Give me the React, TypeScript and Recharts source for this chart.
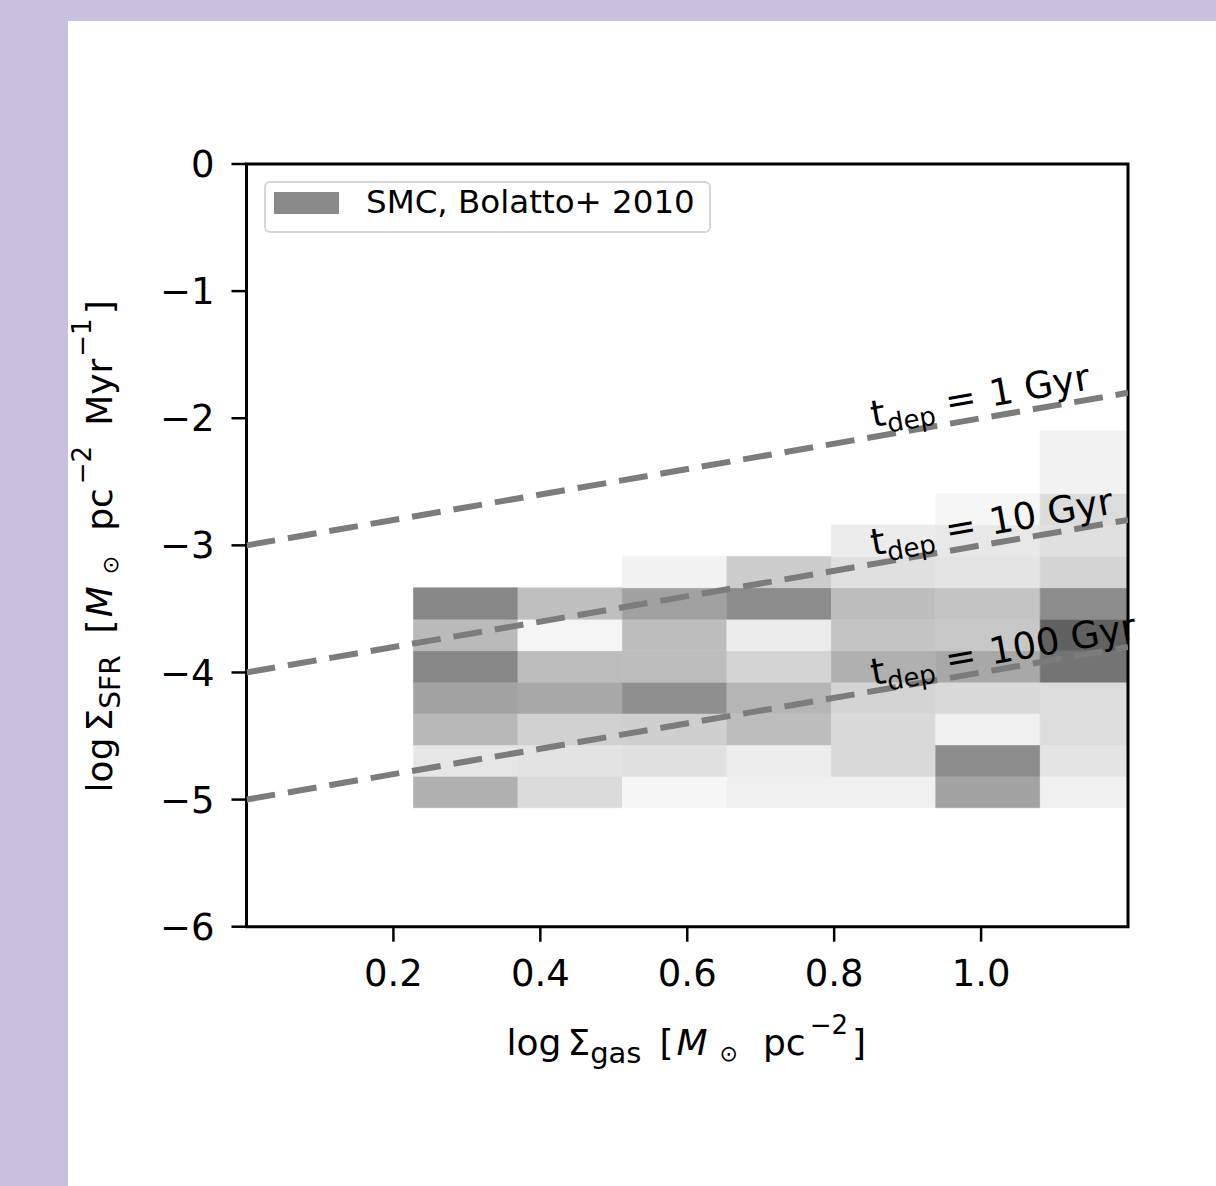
import React from 'react';
import { ComposedChart, XAxis, YAxis, Line, ReferenceArea, ReferenceDot } from 'recharts';

// 2D histogram bin edges (log Σgas, log ΣSFR)
const xBinEdges = [0.2273, 0.3695, 0.5117, 0.6539, 0.7961, 0.9383, 1.0805, 1.2227];
const yBinEdges = [-5.064, -4.817, -4.57, -4.323, -4.076, -3.829, -3.581, -3.334, -3.087, -2.84, -2.593, -2.346, -2.099];

// relative density per x-bin, listed from the lowest y-bin upward
const col1 = [0.31, 0.1, 0.28, 0.36, 0.47, 0.27, 0.47];
const col2 = [0.14, 0.11, 0.18, 0.34, 0.26, 0.04, 0.25];
const col3 = [0.03, 0.12, 0.19, 0.44, 0.26, 0.26, 0.37, 0.05];
const col4 = [0.06, 0.07, 0.26, 0.29, 0.17, 0.075, 0.45, 0.2];
const col5 = [0.06, 0.15, 0.15, 0.17, 0.31, 0.23, 0.26, 0.12, 0.075];
const col6 = [0.36, 0.45, 0.06, 0.15, 0.34, 0.22, 0.23, 0.105, 0.09, 0.04];
const col7 = [0.06, 0.105, 0.137, 0.137, 0.545, 0.62, 0.45, 0.17, 0.12, 0.137, 0.05, 0.05];
const columns = [col1, col2, col3, col4, col5, col6, col7];

// depletion-time lines
const tdep1 = [{ x: 0, y: -3 }, { x: 1.2, y: -1.8 }];
const tdep10 = [{ x: 0, y: -4 }, { x: 1.2, y: -2.8 }];
const tdep100 = [{ x: 0, y: -5 }, { x: 1.2, y: -3.8 }];
const depLabels = [
  { x: 0.853, y: -2.07, text: '1 Gyr' },
  { x: 0.853, y: -3.08, text: '10 Gyr' },
  { x: 0.853, y: -4.1, text: '100 Gyr' },
];

const xTicks = [0.2, 0.4, 0.6, 0.8, 1.0];
const yTicks = [0, -1, -2, -3, -4, -5, -6];
const xDomain = [0, 1.2];
const yDomain = [-6, 0];
const legendLabel = 'SMC, Bolatto+ 2010';

const FONT = 'DejaVu Sans';

const greys = (v: number) => {
  const g = Math.round(255 * (1 - v));
  return `rgb(${g},${g},${g})`;
};

const cells = columns.flatMap((col, i) =>
  col.map((v, k) => ({
    key: `c${i}-${k}`,
    x1: xBinEdges[i],
    x2: xBinEdges[i + 1],
    y1: yBinEdges[k],
    y2: yBinEdges[k + 1],
    fill: greys(v),
  }))
);

const DepLabel = (props: any) => {
  const { cx, cy, text } = props;
  if (cx == null || cy == null) return null;
  return (
    <text
      x={cx}
      y={cy}
      transform={`rotate(-9.9 ${cx} ${cy})`}
      fontFamily={FONT}
      fontSize={37}
      fill="#000"
    >
      t<tspan fontSize={26} dy={8}>dep</tspan>
      <tspan dy={-8} dx={12}>=</tspan>
      <tspan dx={14}>{text}</tspan>
    </text>
  );
};

const XLabel = (props: any) => {
  const vb = props.viewBox || { x: 246.5, y: 926.7, width: 881.5, height: 60 };
  const cx = vb.x + vb.width / 2 - 1;
  const by = vb.y + 128.3;
  return (
    <text x={cx} y={by} textAnchor="middle" fontFamily={FONT} fontSize={36} fill="#000">
      log<tspan dx={6}>Σ</tspan>
      <tspan fontSize={29} dy={8}>gas</tspan>
      <tspan dy={-8} dx={18}>[</tspan>
      <tspan dx={3} fontStyle="italic">M</tspan>
      <tspan fontSize={22} dy={6} dx={12}>⊙</tspan>
      <tspan dy={-6} dx={25}>pc</tspan>
      <tspan fontSize={26} dy={-21} dx={4}>−2</tspan>
      <tspan dy={21} dx={4}>]</tspan>
    </text>
  );
};

const YLabel = (props: any) => {
  const vb = props.viewBox || { x: 186.5, y: 164, width: 60, height: 762.7 };
  const bx = vb.x - 74.5;
  const cy = vb.y + vb.height / 2 + 1;
  return (
    <text
      x={bx}
      y={cy}
      textAnchor="middle"
      transform={`rotate(-90 ${bx} ${cy})`}
      fontFamily={FONT}
      fontSize={36}
      fill="#000"
    >
      log<tspan dx={6}>Σ</tspan>
      <tspan fontSize={28} dy={8}>SFR</tspan>
      <tspan dy={-8} dx={22}>[</tspan>
      <tspan dx={2} fontStyle="italic">M</tspan>
      <tspan fontSize={22} dy={6} dx={12}>⊙</tspan>
      <tspan dy={-6} dx={25}>pc</tspan>
      <tspan fontSize={26} dy={-21} dx={4}>−2</tspan>
      <tspan dy={21} dx={20}>Myr</tspan>
      <tspan fontSize={26} dy={-21} dx={2}>−1</tspan>
      <tspan dy={21} dx={4}>]</tspan>
    </text>
  );
};

const fmtY = (v: number) => (v < 0 ? `−${Math.abs(v)}` : `${v}`);
const fmtX = (v: number) => v.toFixed(1);

export default function App() {
  return (
    <div
      style={{
        position: 'absolute',
        left: 0,
        top: 0,
        width: 1216,
        height: 1186,
        background: '#c9c0df',
        overflow: 'hidden',
      }}
    >
      <div style={{ position: 'absolute', left: 68, top: 21, width: 1148, height: 1165, background: '#ffffff' }} />
      <div style={{ position: 'absolute', left: 0, top: 0 }}>
        <ComposedChart width={1216} height={1186} margin={{ top: 164, right: 88, bottom: 199.3, left: 186.5 }}>
          <XAxis
            type="number"
            dataKey="x"
            domain={xDomain}
            ticks={xTicks}
            interval={0}
            allowDataOverflow
            height={60}
            tickSize={15}
            tickMargin={18}
            axisLine={false}
            tickLine={{ stroke: '#000', strokeWidth: 2.5 }}
            tick={{ fill: '#000', fontSize: 37, fontFamily: FONT }}
            tickFormatter={fmtX}
            label={(p: any) => <XLabel {...p} />}
          />
          <YAxis
            type="number"
            dataKey="y"
            domain={yDomain}
            ticks={yTicks}
            interval={0}
            allowDataOverflow
            width={60}
            tickSize={15}
            tickMargin={17}
            axisLine={false}
            tickLine={{ stroke: '#000', strokeWidth: 2.5 }}
            tick={{ fill: '#000', fontSize: 37, fontFamily: FONT }}
            tickFormatter={fmtY}
            label={(p: any) => <YLabel {...p} />}
          />
          {cells.map((c) => (
            <ReferenceArea
              key={c.key}
              x1={c.x1}
              x2={c.x2}
              y1={c.y1}
              y2={c.y2}
              fill={c.fill}
              fillOpacity={1}
              stroke={c.fill}
              strokeWidth={0.6}
              ifOverflow="hidden"
            />
          ))}
          <ReferenceArea
            x1={xDomain[0]}
            x2={xDomain[1]}
            y1={yDomain[0]}
            y2={yDomain[1]}
            fill="none"
            fillOpacity={0}
            stroke="#000"
            strokeWidth={3}
            ifOverflow="visible"
          />
          {[tdep1, tdep10, tdep100].map((d, i) => (
            <Line
              key={`l${i}`}
              data={d}
              dataKey="y"
              type="linear"
              stroke="#7c7c7c"
              strokeWidth={6}
              strokeDasharray="29 13"
              dot={false}
              activeDot={false}
              legendType="none"
              isAnimationActive={false}
            />
          ))}
          {depLabels.map((l, i) => (
            <ReferenceDot
              key={`t${i}`}
              x={l.x}
              y={l.y}
              r={0}
              ifOverflow="visible"
              shape={(p: any) => <DepLabel {...p} text={l.text} />}
            />
          ))}
        </ComposedChart>
      </div>
      <div
        style={{
          position: 'absolute',
          left: 264,
          top: 181,
          width: 447,
          height: 52,
          boxSizing: 'border-box',
          border: '2px solid #d6d6d6',
          borderRadius: 6,
          background: 'rgba(255,255,255,0.8)',
        }}
      >
        <div style={{ position: 'absolute', left: 8, top: 9, width: 65, height: 22, background: '#898989' }} />
        <span
          style={{
            position: 'absolute',
            left: 100,
            top: 3,
            fontSize: 32.5,
            lineHeight: '33px',
            fontFamily: FONT,
            color: '#000',
            whiteSpace: 'nowrap',
          }}
        >
          {legendLabel}
        </span>
      </div>
    </div>
  );
}
